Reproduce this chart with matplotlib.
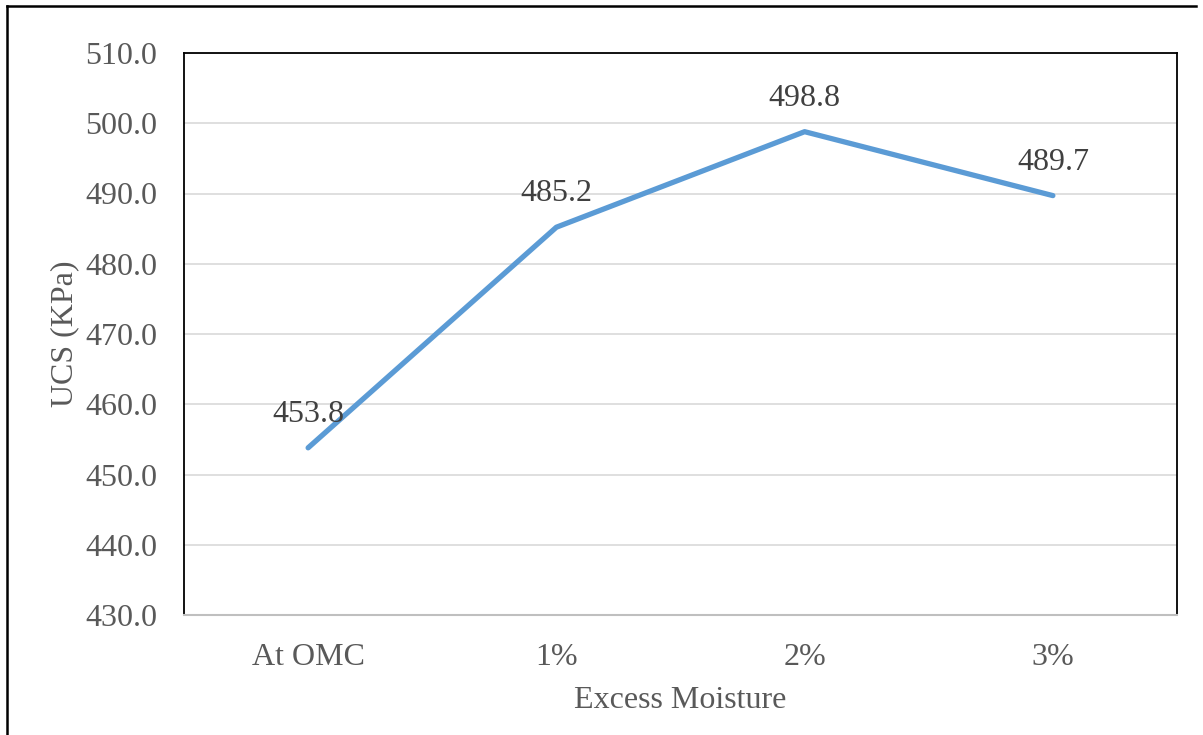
import matplotlib
matplotlib.use("Agg")
import matplotlib.pyplot as plt
from matplotlib.lines import Line2D

categories = ["At OMC", "1%", "2%", "3%"]
ucs_values = [453.8, 485.2, 498.8, 489.7]
y_ticks = [430.0, 440.0, 450.0, 460.0, 470.0, 480.0, 490.0, 500.0, 510.0]

plt.rcParams["font.family"] = ["Liberation Serif", "DejaVu Serif"]

fig = plt.figure(figsize=(12.03, 7.35), dpi=100)
W, H = 1203, 735
left, right, top, bottom = 184, 1177, 53, 615
ax = fig.add_axes([left / W, 1 - bottom / H, (right - left) / W, (bottom - top) / H])

x = list(range(len(categories)))
ax.plot(x, ucs_values, color="#5B9BD5", linewidth=3.8, solid_capstyle="round", zorder=3)

for xi, v in zip(x, ucs_values):
    ax.annotate(f"{v:.1f}", (xi, v), xytext=(0, 24), textcoords="offset points",
                ha="center", va="center", fontsize=23, color="#404040", zorder=4)

ax.set_xlim(-0.5, len(categories) - 0.5)
ax.set_ylim(430, 510)
ax.set_yticks(y_ticks)
ax.set_yticklabels([f"{t:.1f}" for t in y_ticks])
ax.set_xticks(x)
ax.set_xticklabels(categories)
ax.tick_params(axis="both", length=0, labelsize=23, labelcolor="#595959")
ax.tick_params(axis="y", pad=19.5)
ax.tick_params(axis="x", pad=20.5)
ax.grid(axis="y", color="#D9D9D9", linewidth=1.2)
ax.set_axisbelow(True)

for side in ["left", "top", "right"]:
    ax.spines[side].set_color("black")
    ax.spines[side].set_linewidth(1.3)
ax.spines["bottom"].set_color("#BFBFBF")
ax.spines["bottom"].set_linewidth(1.5)

ax.set_ylabel("UCS (KPa)", fontsize=23, color="#595959", labelpad=4)
ax.set_xlabel("Excess Moisture", fontsize=23, color="#595959", labelpad=10)

# outer frame: left and top edges
fig.add_artist(Line2D([7 / W, 7 / W], [0, 1 - 6 / H], transform=fig.transFigure, color="black", linewidth=1.8))
fig.add_artist(Line2D([7 / W, 1196 / W], [1 - 6 / H, 1 - 6 / H], transform=fig.transFigure, color="black", linewidth=1.8))

fig.savefig("out.png", dpi=100)
